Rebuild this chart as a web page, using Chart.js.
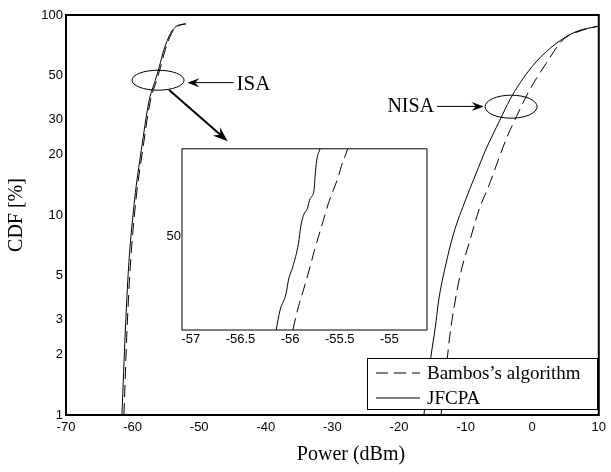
<!DOCTYPE html>
<html>
<head>
<meta charset="utf-8">
<title>CDF of transmit power</title>
<script src="https://cdn.jsdelivr.net/npm/chart.js@4.4.1/dist/chart.umd.min.js"></script>
<style>
  html, body { margin: 0; padding: 0; background: #fff; }
  #wrap { position: relative; width: 611px; height: 472px; }
  #main { position: absolute; left: 0; top: 0; }
  #inset { position: absolute; left: 150px; top: 140px; }
</style>
</head>
<body>
<div id="wrap">
  <canvas id="main" width="611" height="472"></canvas>
  <canvas id="inset" width="290" height="210"></canvas>
</div>
<script>
// ISA curves (power in dBm, CDF in %)
const isaJfcpaPower = [-61.6, -61.1, -60.6, -59.7, -58.7, -57.5, -56.6, -56.0, -55.3, -54.3, -53.5, -52.8, -52.0];
const isaJfcpaCdf   = [1, 2.6, 5.5, 11.9, 21, 37.6, 47, 55, 67, 81, 87.5, 89.6, 90.3];
const isaBambosPower = [-61.3, -60.85, -60.35, -59.5, -58.5, -57.3, -56.4, -55.8, -55.1, -54.15, -53.4, -52.7, -52.0];
const isaBambosCdf   = [1, 2.6, 5.5, 11.9, 21, 37.6, 47, 55, 67, 81, 87, 89.3, 90.3];

// NISA curves
const nisaJfcpaPower = [-16.26, -15.2, -14.54, -14.03, -13.05, -11.79, -10.0, -8.4, -7.0, -4.85, -3.36, -1.87, 0.61, 3.59, 6.57, 10];
const nisaJfcpaCdf   = [1, 1.96, 2.75, 3.76, 5.5, 8.1, 11.9, 16.2, 21.1, 29.8, 37.6, 45.5, 58.4, 72, 82.5, 88];
const nisaBambosPower = [-13.69, -12.69, -12.39, -11.71, -10.81, -9.41, -7.83, -6.58, -5.09, -3.85, -2.37, -0.38, 2.1, 4.59, 7.57, 10];
const nisaBambosCdf   = [1, 2.0, 2.46, 3.48, 5.01, 7.35, 10.98, 13.8, 18.84, 24.2, 31, 42.2, 57.3, 75, 84, 88];

// zoomed view around the ISA 50 % point
const zoomJfcpaPower = [-56.141, -56.101, -56.04, -56.017, -55.973, -55.916, -55.893, -55.866, -55.826, -55.799, -55.759, -55.749, -55.732, -55.698];
const zoomJfcpaCdf   = [45.0, 46.07, 46.96, 47.67, 48.38, 49.63, 50.52, 51.14, 51.5, 52.03, 52.48, 53.19, 54.08, 54.7];
const zoomBambosPower = [-55.973, -55.916, -55.866, -55.799, -55.755, -55.715, -55.665, -55.615, -55.565, -55.515, -55.481, -55.437, -55.42];
const zoomBambosCdf   = [45.0, 46.25, 47.14, 48.38, 49.27, 49.98, 50.87, 51.76, 52.48, 53.19, 53.81, 54.43, 54.7];

const powerTicks = [-70, -60, -50, -40, -30, -20, -10, 0, 10];
const cdfTicks = [1, 2, 3, 5, 10, 20, 30, 50, 100];
const zoomPowerTicks = [-57, -56.5, -56, -55.5, -55];
const zoomCdfTicks = [50];

const seriesNames = ['Bambos\u2019s algorithm', 'JFCPA'];

const serif = '"Times New Roman", "Liberation Serif", serif';
const sans = 'Arial, "Liberation Sans", Helvetica, sans-serif';
const dash = [12, 6];

function toPoints(xs, ys) {
  return xs.map((x, i) => ({ x: x, y: ys[i] }));
}

function line(label, xs, ys, dashed) {
  return {
    label: label,
    data: toPoints(xs, ys),
    borderColor: '#000',
    borderWidth: 1,
    borderDash: dashed ? dash : [],
    pointRadius: 0,
    cubicInterpolationMode: 'monotone',
    fill: false
  };
}

// box around the plot area
const frame = {
  id: 'frame',
  afterDatasetsDraw(chart, args, opts) {
    const a = chart.chartArea;
    const ctx = chart.ctx;
    ctx.save();
    ctx.strokeStyle = '#000';
    ctx.lineWidth = opts.width || 1;
    ctx.strokeRect(a.left, a.top, a.right - a.left, a.bottom - a.top);
    ctx.restore();
  }
};

function arrow(ctx, x0, y0, x1, y1, lw, len, half) {
  const a = Math.atan2(y1 - y0, x1 - x0);
  const c = Math.cos(a), s = Math.sin(a);
  ctx.lineWidth = lw;
  ctx.beginPath();
  ctx.moveTo(x0, y0);
  ctx.lineTo(x1 - c * len * 0.6, y1 - s * len * 0.6);
  ctx.stroke();
  const bx = x1 - c * len, by = y1 - s * len;
  ctx.beginPath();
  ctx.moveTo(x1, y1);
  ctx.lineTo(bx - s * half, by + c * half);
  ctx.lineTo(x1 - c * len * 0.65, y1 - s * len * 0.65);
  ctx.lineTo(bx + s * half, by - c * half);
  ctx.closePath();
  ctx.fill();
}

// ellipses, arrows, labels, legend and axis titles
const notes = {
  id: 'notes',
  afterDraw(chart) {
    const ctx = chart.ctx;
    const xs = chart.scales.x, ys = chart.scales.y;
    const px = v => xs.getPixelForValue(v);
    const py = v => ys.getPixelForValue(v);
    ctx.save();
    ctx.strokeStyle = '#000';
    ctx.fillStyle = '#000';

    // ISA
    ctx.lineWidth = 1;
    ctx.beginPath();
    ctx.ellipse(px(-56.18), py(47.2), 26, 10, 0, 0, Math.PI * 2);
    ctx.stroke();
    arrow(ctx, px(-44.82), py(45.9), px(-51.78), py(45.9), 1, 12, 4.5);
    arrow(ctx, px(-54.51), py(42.2), px(-45.72), py(23.4), 2, 15, 5.5);
    ctx.font = '21px ' + serif;
    ctx.textBaseline = 'middle';
    ctx.textAlign = 'left';
    ctx.fillText('ISA', px(-44.38), py(44.7));

    // NISA
    ctx.lineWidth = 1;
    ctx.beginPath();
    ctx.ellipse(px(-3.16), py(34.8), 26, 11.5, 0, 0, Math.PI * 2);
    ctx.stroke();
    arrow(ctx, px(-14.28), py(34.9), px(-7.28), py(34.9), 1, 12, 4.5);
    ctx.font = '20px ' + serif;
    ctx.textAlign = 'right';
    ctx.fillText('NISA', px(-14.73), py(34.7));

    // legend
    const lx = 367, ly = 358, lw = 230, lh = 51;
    ctx.fillStyle = '#fff';
    ctx.fillRect(lx, ly, lw, lh);
    ctx.lineWidth = 1;
    ctx.strokeRect(lx + 0.5, ly + 0.5, lw, lh);
    ctx.fillStyle = '#000';
    ctx.font = '19px ' + serif;
    ctx.textAlign = 'left';
    const rows = [
      { ds: chart.data.datasets[0], y: ly + 15 },
      { ds: chart.data.datasets[1], y: ly + 40 }
    ];
    rows.forEach(r => {
      ctx.setLineDash(r.ds.borderDash || []);
      ctx.lineWidth = 1;
      ctx.beginPath();
      ctx.moveTo(lx + 9, r.y);
      ctx.lineTo(lx + 53, r.y);
      ctx.stroke();
      ctx.setLineDash([]);
      ctx.fillText(r.ds.label, lx + 60, r.y + 1);
    });

    // axis titles
    ctx.font = '20px ' + serif;
    ctx.textAlign = 'center';
    ctx.fillText('Power (dBm)', 351, 455);
    ctx.translate(17, (chart.chartArea.top + chart.chartArea.bottom) / 2);
    ctx.rotate(-Math.PI / 2);
    ctx.fillText('CDF [%]', 0, 0);
    ctx.restore();
  }
};

const tickFont = { family: sans, size: 13 };

new Chart(document.getElementById('main'), {
  type: 'line',
  data: {
    datasets: [
      line(seriesNames[0], isaBambosPower, isaBambosCdf, true),
      line(seriesNames[1], isaJfcpaPower, isaJfcpaCdf, false),
      line(seriesNames[0], nisaBambosPower, nisaBambosCdf, true),
      line(seriesNames[1], nisaJfcpaPower, nisaJfcpaCdf, false)
    ]
  },
  options: {
    responsive: false,
    animation: false,
    layout: { padding: { left: 0, right: 8, top: 15, bottom: 0 } },
    plugins: {
      legend: { display: false },
      tooltip: { enabled: false },
      frame: { width: 2 }
    },
    scales: {
      x: {
        type: 'linear',
        min: -70,
        max: 10,
        grid: { display: false, drawTicks: false },
        border: { display: false },
        ticks: { color: '#000', font: tickFont, padding: 5, maxRotation: 0, callback: v => String(v) },
        afterBuildTicks: axis => { axis.ticks = powerTicks.map(v => ({ value: v })); },
        afterFit: axis => { axis.height = 57; }
      },
      y: {
        type: 'logarithmic',
        min: 1,
        max: 100,
        grid: { display: false, drawTicks: false },
        border: { display: false },
        ticks: { color: '#000', font: tickFont, padding: 3, callback: v => String(v) },
        afterBuildTicks: axis => { axis.ticks = cdfTicks.map(v => ({ value: v })); },
        afterFit: axis => { axis.width = 66; }
      }
    }
  },
  plugins: [frame, notes]
});

new Chart(document.getElementById('inset'), {
  type: 'line',
  data: {
    datasets: [
      line(seriesNames[0], zoomBambosPower, zoomBambosCdf, true),
      line(seriesNames[1], zoomJfcpaPower, zoomJfcpaCdf, false)
    ]
  },
  options: {
    responsive: false,
    animation: false,
    layout: { padding: { left: 0, right: 13, top: 8, bottom: 0 } },
    plugins: {
      legend: { display: false },
      tooltip: { enabled: false },
      frame: { width: 1 }
    },
    scales: {
      x: {
        type: 'linear',
        min: -57.09,
        max: -54.62,
        grid: { display: false, drawTicks: false },
        border: { display: false },
        ticks: { color: '#000', font: tickFont, padding: 2, maxRotation: 0, callback: v => String(v) },
        afterBuildTicks: axis => { axis.ticks = zoomPowerTicks.map(v => ({ value: v })); },
        afterFit: axis => { axis.height = 20; }
      },
      y: {
        type: 'linear',
        min: 45,
        max: 54.7,
        grid: { display: false, drawTicks: false },
        border: { display: false },
        ticks: { color: '#000', font: tickFont, padding: 1, callback: v => String(v) },
        afterBuildTicks: axis => { axis.ticks = zoomCdfTicks.map(v => ({ value: v })); },
        afterFit: axis => { axis.width = 32; }
      }
    }
  },
  plugins: [frame]
});
</script>
</body>
</html>
